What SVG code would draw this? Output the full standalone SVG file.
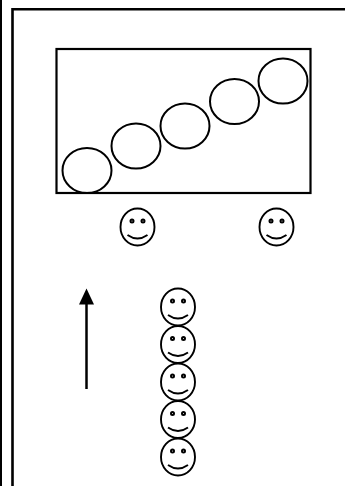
<svg xmlns="http://www.w3.org/2000/svg" width="345" height="486" viewBox="0 0 345 486">
<style>
.s{fill:none;stroke:#000;stroke-width:1.9}
.e{fill:#fff;stroke:#000;stroke-width:2}
.b{fill:none;stroke:#000;stroke-width:2}
</style>
<defs>
<g id="smiley">
<ellipse class="s" cx="0" cy="0" rx="17" ry="18.500"/>
<circle class="e" cx="-5.500" cy="-6" r="1.500"/>
<circle class="e" cx="5.500" cy="-6" r="1.500"/>
<path class="s" d="M-10 8Q0 15 10 8"/>
</g>
</defs>
<rect width="345" height="486" fill="#fff"/>
<g id="frame"><path d="M1 0V486" fill="none" stroke="#000" stroke-width="2"/><path d="M12.500 486V9.200H345" fill="none" stroke="#000" stroke-width="2.600"/></g>
<g id="box"><rect x="56.500" y="49" width="254" height="144" fill="none" stroke="#000" stroke-width="2.200"/></g>
<g id="oval1"><ellipse class="b" cx="87" cy="170.500" rx="24.500" ry="22.500"/></g>
<g id="oval2"><ellipse class="b" cx="136" cy="146" rx="24.500" ry="22.500"/></g>
<g id="oval3"><ellipse class="b" cx="185" cy="126" rx="24.500" ry="22.500"/></g>
<g id="oval4"><ellipse class="b" cx="234.500" cy="101.500" rx="24.500" ry="22.500"/></g>
<g id="oval5"><ellipse class="b" cx="283" cy="81" rx="24.500" ry="22.500"/></g>
<g id="smiley1"><use href="#smiley" x="137.500" y="227"/></g>
<g id="smiley2"><use href="#smiley" x="276.500" y="227"/></g>
<g id="smiley3"><use href="#smiley" x="178" y="307"/></g>
<g id="smiley4"><use href="#smiley" x="178" y="344.500"/></g>
<g id="smiley5"><use href="#smiley" x="178" y="382"/></g>
<g id="smiley6"><use href="#smiley" x="178" y="419.500"/></g>
<g id="smiley7"><use href="#smiley" x="178" y="457"/></g>
<g id="connectors"><path d="M86.500 389V303" fill="none" stroke="#000" stroke-width="2.500"/><path d="M86.500 288.500L94 304.500H79Z" fill="#000"/></g>
</svg>
